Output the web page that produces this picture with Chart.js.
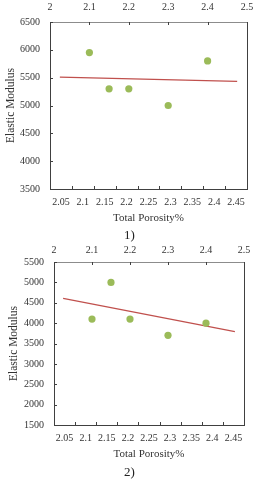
<!DOCTYPE html>
<html>
<head>
<meta charset="utf-8">
<script src="https://cdn.jsdelivr.net/npm/chart.js@4.4.1/dist/chart.umd.min.js"></script>
<style>
  html, body { margin:0; padding:0; background:#fff; }
  body { width:263px; height:480px; position:relative; overflow:hidden; font-family:"Liberation Serif", serif; }
  canvas { position:absolute; left:0; }
  .cap { position:absolute; font-family:"Liberation Serif", serif; font-size:13px; color:#222; line-height:16px; }
</style>
</head>
<body>
<canvas id="c1" width="263" height="228" style="top:0px"></canvas>
<div class="cap" style="left:124px; top:227px;">1)</div>
<canvas id="c2" width="263" height="224" style="top:240px"></canvas>
<div class="cap" style="left:124px; top:464px;">2)</div>
<script>
// ---- data ----
const bottomLabels = ['2.05','2.1','2.15','2.2','2.25','2.3','2.35','2.4','2.45'];
const porosity1 = [2.1, 2.15, 2.2, 2.3, 2.4];
const modulus1  = [5950, 5300, 5300, 5000, 5800];
const trendX1   = [2.025, 2.475];
const trendY1   = [5510, 5435];
const porosity2 = [2.1, 2.15, 2.2, 2.3, 2.4];
const modulus2  = [4100, 5000, 4100, 3700, 4000];
const trendX2   = [2.024, 2.476];
const trendY2   = [4605, 3790];
const yRange1 = [3500, 6500];
const yRange2 = [1500, 5500];
const xRange  = [2, 2.5];

const serif = "'Liberation Serif', 'Times New Roman', serif";
const AX = '#404040';

const inwardTicks = {
  id: 'inwardTicks',
  afterDraw(chart) {
    const {ctx, chartArea: a, scales} = chart;
    ctx.save();
    ctx.strokeStyle = AX;
    ctx.lineWidth = 1;
    const line = (x1, y1, x2, y2) => { ctx.beginPath(); ctx.moveTo(x1, y1); ctx.lineTo(x2, y2); ctx.stroke(); };
    const L = 3;
    line(Math.round(a.right) + 0.5, a.top, Math.round(a.right) + 0.5, a.bottom);
    scales.x.ticks.forEach((t, i) => {
      const px = Math.round(scales.x.getPixelForTick(i)) + 0.5;
      line(px, a.top, px, a.top + L);
    });
    scales.y.ticks.forEach((t, i) => {
      const py = Math.round(scales.y.getPixelForTick(i)) + 0.5;
      line(a.left, py, a.left + L, py);
    });
    for (let i = 1; i < bottomLabels.length; i++) {
      const px = Math.round(scales.xb.getPixelForValue(i - 0.5)) + 0.5;
      line(px, a.bottom, px, a.bottom - L);
    }
    ctx.restore();
  }
};

const plainNum = v => String(Number(Number(v).toFixed(3)));

function makeChart(id, px, py, tx, ty, yRange, dims) {
  const pts = px.map((v, i) => ({x: v, y: py[i]}));
  const tr = tx.map((v, i) => ({x: v, y: ty[i]}));
  return new Chart(document.getElementById(id), {
    type: 'scatter',
    data: {
      datasets: [
        { data: tr, showLine: true, borderColor: '#C0504D', borderWidth: 1.3, pointRadius: 0, xAxisID: 'x', yAxisID: 'y', order: 2 },
        { data: pts, backgroundColor: '#9BBB59', borderWidth: 0, pointRadius: 3.6, xAxisID: 'x', yAxisID: 'y', order: 1 }
      ]
    },
    options: {
      responsive: false,
      animation: false,
      devicePixelRatio: 1,
      events: [],
      layout: { padding: { left: 0, right: dims.right, top: 0, bottom: 0 } },
      plugins: { legend: { display: false }, tooltip: { enabled: false } },
      scales: {
        x: {
          type: 'linear', position: 'top', min: xRange[0], max: xRange[1],
          ticks: { stepSize: 0.1, color: '#333', font: { family: serif, size: 10 }, padding: dims.topPad, maxRotation: 0, callback: plainNum },
          grid: { display: true, drawOnChartArea: false, drawTicks: false },
          border: { color: '#8c8c8c', width: 1 },
          afterFit: s => { s.height = dims.top; }
        },
        xb: {
          type: 'category', position: 'bottom', labels: bottomLabels, offset: true,
          ticks: { color: '#333', font: { family: serif, size: 10 }, padding: 7, maxRotation: 0, autoSkip: false },
          grid: { display: false, drawTicks: false },
          border: { color: AX, width: 1 },
          title: { display: true, text: 'Total Porosity%', color: '#333', font: { family: serif, size: 11 }, padding: { top: 0, bottom: 3 } },
          afterFit: s => { s.height = dims.h - dims.bottom; }
        },
        y: {
          type: 'linear', position: 'left', min: yRange[0], max: yRange[1],
          ticks: { stepSize: 500, color: '#333', font: { family: serif, size: 10 }, padding: 10, callback: plainNum },
          grid: { display: true, drawOnChartArea: false, drawTicks: false },
          border: { color: AX, width: 1 },
          title: { display: true, text: 'Elastic Modulus', color: '#333', font: { family: serif, size: 11.5 }, padding: { top: dims.yTitlePad, bottom: 0 } },
          afterFit: s => { s.width = dims.left; }
        }
      }
    },
    plugins: [inwardTicks]
  });
}

makeChart('c1', porosity1, modulus1, trendX1, trendY1, yRange1,
  { h: 228, left: 50, right: 16, top: 22, bottom: 189, topPad: 9, yTitlePad: 4 });
makeChart('c2', porosity2, modulus2, trendX2, trendY2, yRange2,
  { h: 224, left: 54, right: 19, top: 22, bottom: 185, topPad: 6, yTitlePad: 7 });
</script>
</body>
</html>
